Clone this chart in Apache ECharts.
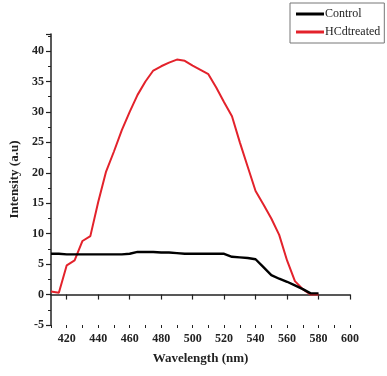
<!DOCTYPE html>
<html><head><meta charset="utf-8">
<script src="https://cdn.jsdelivr.net/npm/echarts@6/dist/echarts.min.js"></script>
<style>html,body{margin:0;padding:0;background:#fff}#c{width:387px;height:376px}</style>
</head><body><div id="c"></div>
<script>
const wavelengths = [410,415,420,425,430,435,440,445,450,455,460,465,470,475,480,485,490,495,500,505,510,515,520,525,530,535,540,545,550,555,560,565,570,575,580];
const control = [6.7,6.7,6.6,6.6,6.6,6.6,6.6,6.6,6.6,6.6,6.7,7.0,7.0,7.0,6.9,6.9,6.8,6.7,6.7,6.7,6.7,6.7,6.7,6.2,6.1,6.0,5.8,4.5,3.2,2.6,2.1,1.5,0.9,0.2,0.2];
const hcdTreated = [0.5,0.3,4.8,5.6,8.8,9.6,15.2,20.2,23.5,27.0,30.0,32.8,35.0,36.8,37.5,38.1,38.6,38.4,37.6,36.9,36.2,34.0,31.6,29.3,25.0,21.0,17.0,14.8,12.5,9.8,5.6,2.2,0.9,0.0,0.0];
const xMajorTicks = [420,440,460,480,500,520,540,560,580,600];
const seriesNames = ['Control','HCdtreated'];

const chart = echarts.init(document.getElementById('c'), null, {renderer:'canvas'});
const font = 'Liberation Serif';
chart.setOption({
  backgroundColor:'#fff',
  animation:false,
  grid:{left:51,right:37,top:34,bottom:51,containLabel:false},
  legend:{
    orient:'vertical', left:290, top:3,
    padding:[5,4,5,6], itemGap:6,
    icon:'rect', itemWidth:28, itemHeight:3,
    borderColor:'#777', borderWidth:1,
    textStyle:{fontFamily:font,fontSize:12,color:'#222',padding:[0,0,0,-4]},
    data:seriesNames
  },
  xAxis:[{
    type:'value', min:410, max:600, interval:10,
    name:'Wavelength (nm)', nameLocation:'middle', nameGap:27,
    nameTextStyle:{fontFamily:font,fontSize:13,fontWeight:'bold',color:'#222'},
    axisLine:{lineStyle:{color:'#222',width:1.5}},
    axisTick:{show:true,length:5,customValues:xMajorTicks,lineStyle:{color:'#222',width:1.2}},
    axisLabel:{customValues:xMajorTicks,fontFamily:font,fontSize:12,fontWeight:'bold',color:'#222',margin:8},
    splitLine:{show:false}
  },{
    type:'value', min:410, max:600, interval:10, position:'bottom',
    axisLine:{show:false},
    axisTick:{show:true,length:3,lineStyle:{color:'#222',width:1}},
    axisLabel:{show:false},
    splitLine:{show:false}
  }],
  yAxis:{
    type:'value', min:-5, max:42.8, interval:5,
    name:'Intensity (a.u)', nameLocation:'middle', nameGap:30,
    nameTextStyle:{fontFamily:font,fontSize:13,fontWeight:'bold',color:'#222'},
    axisLine:{show:true,lineStyle:{color:'#222',width:1.5}},
    axisTick:{show:true,length:5,lineStyle:{color:'#222',width:1.2}},
    minorTick:{show:true,splitNumber:2,length:3,lineStyle:{color:'#222'}},
    axisLabel:{showMaxLabel:false,fontFamily:font,fontSize:12,fontWeight:'bold',color:'#222',margin:7},
    splitLine:{show:false}
  },
  series:[{
    name:seriesNames[0], type:'line', xAxisIndex:0, symbol:'none',
    data:wavelengths.map((w,i)=>[w,control[i]]),
    lineStyle:{color:'#000',width:2.4}, itemStyle:{color:'#000'}, z:3
  },{
    name:seriesNames[1], type:'line', xAxisIndex:0, symbol:'none',
    data:wavelengths.map((w,i)=>[w,hcdTreated[i]]),
    lineStyle:{color:'#e3222b',width:2}, itemStyle:{color:'#e3222b'}, z:2
  }]
});
</script></body></html>
